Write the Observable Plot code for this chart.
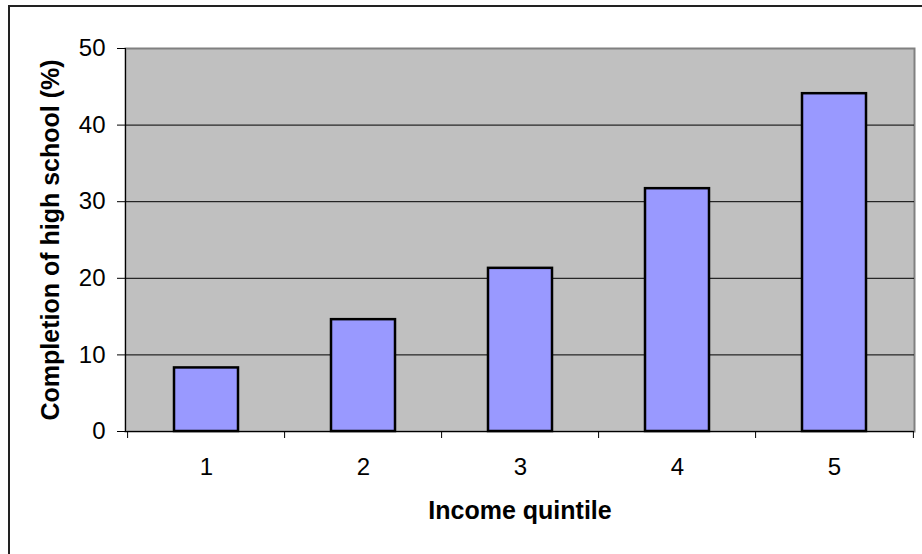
<!DOCTYPE html>
<html>
<head>
<meta charset="utf-8">
<script src="https://cdn.jsdelivr.net/npm/d3@7"></script>
<script src="https://cdn.jsdelivr.net/npm/@observablehq/plot@0.6"></script>
<style>
  html, body { margin: 0; padding: 0; background: #fff; }
  #wrap { position: relative; width: 922px; height: 554px; overflow: hidden; }
  #outer { position: absolute; left: 8px; top: 5px; width: 1000px; height: 1000px; border-left: 2px solid #222; border-top: 2px solid #222; box-sizing: border-box; pointer-events: none; }
  svg { font-family: "Liberation Sans", Arial, sans-serif; }
</style>
</head>
<body>
<div id="wrap"><div id="outer"></div></div>
<script>
const quintiles = ["1", "2", "3", "4", "5"];
const completion = [8.3, 14.6, 21.3, 31.7, 44.1];
const yTicks = [0, 10, 20, 30, 40, 50];
const gridValues = [10, 20, 30, 40];
const yLabel = "Completion of high school (%)";
const xLabel = "Income quintile";

const data = quintiles.map((q, i) => ({q, v: completion[i]}));

const W = 922, H = 554;
const mL = 125, mR = 8, mT = 48, mB = 123;
const band = (W - mL - mR) / quintiles.length;

const chart = Plot.plot({
  width: W,
  height: H,
  marginLeft: mL,
  marginRight: mR,
  marginTop: mT,
  marginBottom: mB,
  style: {fontFamily: "Liberation Sans, Arial, sans-serif", background: "transparent", overflow: "visible"},
  x: {domain: quintiles, paddingInner: 0.595, paddingOuter: 0.2975, label: null, axis: null},
  y: {domain: [0, 50], label: null, axis: null},
  marks: [
    Plot.frame({fill: "#C0C0C0", stroke: "#808080", strokeWidth: 2}),
    Plot.ruleY(gridValues, {stroke: "#000", strokeWidth: 1}),
    Plot.barY(data, {x: "q", y: "v", fill: "#9999FF", stroke: "#000", strokeWidth: 2.5}),
    Plot.frame({anchor: "left", stroke: "#000", strokeWidth: 1}),
    Plot.ruleY([0], {stroke: "#000", strokeWidth: 1}),
    Plot.axisY({ticks: yTicks, tickSize: 8, tickPadding: 12, fontSize: 24, label: null, stroke: "#000", color: "#000"}),
    Plot.axisX({ticks: quintiles, tickSize: 7, dx: -band / 2, text: null, label: null, stroke: "#000"}),
    Plot.axisX({ticks: [quintiles[quintiles.length - 1]], tickSize: 7, dx: band / 2, text: null, label: null, stroke: "#000"}),
    Plot.axisX({ticks: quintiles, tickSize: 0, tickPadding: 26, fontSize: 24, label: null, color: "#000"}),
    Plot.text([yLabel], {frameAnchor: "left", textAnchor: "middle", dx: -75, rotate: -90, fontSize: 25, fontWeight: "bold", fill: "#000"}),
    Plot.text([xLabel], {frameAnchor: "bottom", dy: 87, fontSize: 25, fontWeight: "bold", fill: "#000"})
  ]
});
document.getElementById("wrap").prepend(chart);
chart.style.position = "absolute";
chart.style.left = "0";
chart.style.top = "0";
</script>
</body>
</html>
